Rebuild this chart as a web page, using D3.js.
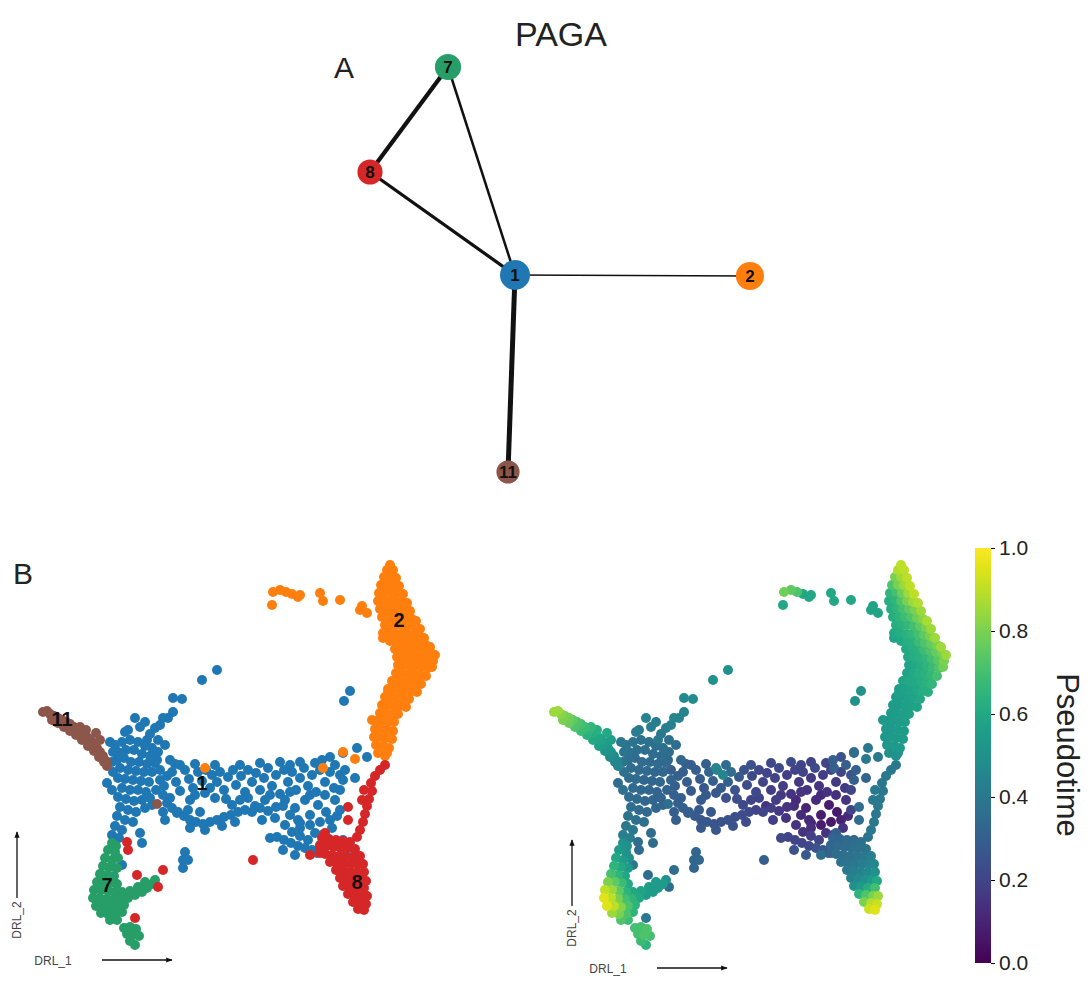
<!DOCTYPE html>
<html>
<head>
<meta charset="utf-8">
<script src="https://cdn.jsdelivr.net/npm/d3@7"></script>
<style>
  body { margin: 0; background: #fff; }
  text { font-family: "Liberation Sans", Arial, sans-serif; }
</style>
</head>
<body>
<div id="fig"></div>
<script>
// ---- PAGA graph (panel A) ----
var pagaNodes = ["1", "2", "7", "8", "11"];
var pagaX = [0.0, 2.35, -0.67, -1.45, -0.07];
var pagaY = [0.0, -0.01, 2.08, 1.03, -1.97];
var pagaCells = [420, 370, 320, 295, 250];
var pagaEdges = [["7", "8"], ["8", "1"], ["7", "1"], ["1", "2"], ["1", "11"]];
var pagaWeights = [0.85, 0.65, 0.5, 0.3, 1.0];

// ---- DRL embedding (panel B), [DRL_1, DRL_2, pseudotime] per cell ----
var cells11 = [[43,712,.85],[47,711,.85],[50,714,.82],[54,716,.8],[58,718,.78],[62,720,.75],[66,722,.72],[70,724,.7],[74,727,.68],[78,730,.65],[82,733,.62],[86,736,.6],[90,740,.58],[94,744,.55],[97,748,.52],[100,752,.5],[103,756,.48],[106,761,.46],[107,766,.45],[52,720,.8],[58,723,.77],[64,727,.72],[70,731,.68],[76,735,.64],[82,740,.6],[88,746,.56],[94,751,.52],[99,757,.48],[104,762,.46],[96,733,.6],[100,740,.56],[80,727,.66],[86,730,.63],[157,804,.35]];

var cells1 = [[217,670,.5],[202,680,.5],[182,699,.48],[173,698,.48],[173,712,.45],[168,718,.45],[163,718,.45],[155,728,.42],[147,740,.4],[135,718,.45],[125,732,.42],[140,727,.42],[150,734,.4],[160,725,.43],[107,783,.35],[88,738,.5],[92,742,.5],
[115,745,.38],[122,742,.38],[130,740,.37],[138,742,.37],[145,746,.36],[152,748,.36],[118,752,.37],[126,750,.36],[134,750,.36],[142,754,.35],[150,756,.35],[158,752,.35],
[117,760,.36],[124,758,.35],[131,762,.35],[139,762,.34],[147,764,.34],[155,763,.34],[120,768,.35],[128,770,.34],[136,771,.34],[144,772,.33],[152,772,.33],
[118,778,.35],[125,779,.34],[133,780,.33],[141,781,.33],[149,782,.33],[122,788,.34],[130,790,.33],[138,790,.33],[146,792,.32],[118,797,.35],[126,799,.34],[134,801,.33],[142,800,.32],[150,798,.32],
[120,807,.36],[128,810,.35],[136,812,.34],[145,808,.33],[117,816,.38],[125,820,.37],[133,822,.36],[115,826,.4],[122,830,.4],[112,835,.42],[119,838,.42],
[113,752,.38],[112,762,.38],[113,772,.37],[112,790,.37],[157,760,.33],[160,780,.32],[156,790,.32],[152,805,.32],[128,730,.4],[145,722,.42],[158,740,.36],[165,745,.35],[170,760,.33],[110,742,.4],
[140,833,.35],[142,843,.35],[122,865,.4],[165,820,.3],[163,812,.3],[177,813,.3],
[185,852,.33],[183,860,.33],[188,860,.33],[183,868,.33],
[160,770,.3],[167,776,.3],[164,786,.3],[172,772,.3],[176,782,.29],[180,791,.28],[185,770,.3],[189,779,.28],[193,788,.27],[198,772,.32],[202,781,.3],[206,770,.45],[212,775,.45],[210,788,.28],[217,782,.3],[220,772,.35],[224,790,.25],[228,777,.28],[233,770,.25],[236,785,.23],[241,776,.22],[245,792,.22],[248,770,.22],[252,782,.2],[256,773,.2],[260,790,.18],[264,778,.2],[268,768,.22],[272,786,.18],[276,775,.18],[280,794,.15],[284,770,.2],[288,782,.16],[292,772,.2],[296,790,.15],[300,778,.17],[304,768,.22],[308,786,.15],[312,775,.18],[316,792,.15],[320,770,.2],[325,782,.17],[330,772,.2],[334,788,.17],
[180,765,.3],[280,762,.22],[330,757,.25],[300,762,.2],[175,764,.3],[195,764,.3],[215,765,.35],[240,765,.25],[260,763,.22],[290,765,.2],[315,763,.2],[340,775,.25],[340,790,.2],
[163,795,.3],[170,798,.3],[195,795,.28],[205,793,.27],[226,799,.24],[248,798,.2],[270,795,.17],[290,792,.15],[310,795,.12],[325,795,.14],
[190,800,.28],[215,798,.25],[240,800,.2],[255,806,.15],[265,800,.18],[285,800,.12],[295,808,.1],[305,800,.12],[318,805,.08],[326,812,.07],[335,800,.15],[310,815,.08],[232,805,.22],
[167,803,.3],[172,808,.3],[178,812,.3],[184,816,.28],[190,820,.27],[196,822,.27],[203,824,.26],[210,822,.25],[217,820,.25],[224,817,.24],[231,815,.23],[238,812,.22],[245,810,.2],[252,812,.2],[260,808,.18],[268,811,.16],[276,807,.15],[283,806,.13],[290,815,.12],[298,820,.12],[190,828,.28],[205,830,.27],
[188,810,.28],[200,812,.27],[222,826,.25],[235,822,.23],[262,820,.18],[275,818,.15],[285,825,.15],[292,832,.15],[322,835,.2],[328,842,.25],[270,838,.22],[283,850,.25],[295,855,.28],
[277,837,.2],[284,840,.2],[291,843,.2],[298,846,.22],[305,848,.25],[312,850,.28],[317,853,.3],[300,836,.18],[308,840,.2],[315,833,.15],[300,828,.14],[320,845,.3],
[300,823,.1],[310,825,.08],[320,822,.07],[330,820,.1],[337,816,.12],[343,780,.3],[355,778,.32],[345,770,.3],[335,765,.3],[322,760,.3],[343,753,.35],[357,748,.4],[367,757,.4],[350,691,.5],[344,701,.5],[340,810,.2],[332,828,.15],[352,857,.35],[343,840,.3]];

var cells2 = [[390,565,.9],[387,570,.88],[393,570,.9],[384,577,.8],[390,577,.85],[396,578,.9],[381,585,.72],[387,585,.8],[393,585,.85],[399,586,.9],
[379,593,.65],[385,592,.7],[391,593,.78],[397,593,.85],[403,594,.9],[378,601,.62],[384,600,.65],[390,601,.72],[396,601,.8],[402,602,.85],[407,603,.88],
[380,609,.62],[386,609,.65],[392,609,.7],[398,609,.75],[404,610,.8],[410,611,.85],[382,617,.62],[388,617,.65],[394,617,.68],[400,617,.72],[406,618,.78],[412,619,.82],[416,621,.87],
[385,625,.62],[391,625,.64],[397,625,.66],[403,626,.7],[409,626,.75],[415,627,.8],[420,629,.85],[383,633,.6],[389,633,.62],[395,634,.64],[401,634,.66],[407,634,.7],[413,635,.75],[419,636,.8],[424,638,.85],
[390,641,.6],[396,641,.62],[402,642,.64],[408,642,.68],[414,643,.72],[420,644,.76],[426,645,.8],[430,647,.85],[395,649,.6],[401,649,.62],[407,650,.64],[413,650,.68],[419,651,.72],[425,652,.76],[431,653,.8],[435,655,.85],
[397,657,.6],[403,657,.62],[409,658,.64],[415,658,.66],[421,659,.7],[427,660,.74],[433,661,.8],[398,665,.58],[404,665,.6],[410,666,.62],[416,666,.65],[422,667,.68],[428,668,.72],[432,667,.78],
[396,673,.58],[402,673,.6],[408,674,.62],[414,674,.64],[420,675,.66],[426,676,.7],[392,681,.58],[398,681,.6],[404,682,.6],[410,682,.62],[416,683,.64],[421,684,.66],
[388,689,.56],[394,689,.57],[400,690,.58],[406,690,.6],[412,691,.62],[417,692,.63],[385,697,.55],[391,697,.56],[397,698,.57],[403,698,.58],[409,699,.6],
[382,705,.55],[388,705,.55],[394,706,.56],[400,706,.57],[406,707,.58],[380,713,.54],[386,713,.55],[392,714,.56],[398,714,.57],
[376,721,.54],[382,721,.54],[388,722,.55],[394,722,.56],[375,729,.53],[381,729,.54],[387,730,.55],[393,731,.55],[374,737,.53],[380,737,.54],[386,738,.54],[392,739,.55],
[376,745,.53],[383,746,.54],[389,748,.54],[378,753,.5],[385,756,.5],[372,720,.54],[388,693,.56],[383,638,.58],[380,602,.6],[360,610,.58],[367,613,.58],[362,606,.58],
[273,592,.78],[272,605,.6],[280,590,.75],[286,592,.72],[292,594,.6],[298,597,.6],[300,595,.6],[320,593,.6],[323,601,.6],[340,600,.6],
[205,768,.45],[323,768,.3],[343,752,.35],[355,759,.4],[387,753,.5]];

var cells8 = [[385,765,.4],[380,770,.4],[375,776,.4],[371,783,.4],[372,791,.4],[369,799,.4],[367,806,.4],[365,814,.4],[363,822,.4],[360,830,.4],[357,837,.38],[362,800,.4],[364,790,.4],
[348,807,.35],[348,820,.35],[310,855,.35],[253,860,.3],[325,833,.3],[320,853,.32],
[322,838,.33],[329,839,.33],[336,840,.34],[343,841,.35],[350,842,.36],[320,846,.33],[327,846,.34],[334,847,.35],[341,848,.36],[348,848,.37],[355,849,.38],
[325,854,.35],[332,855,.36],[339,856,.37],[346,856,.38],[354,857,.4],[360,856,.42],[330,862,.37],[337,863,.38],[344,864,.4],[351,864,.42],[358,864,.44],[363,864,.46],
[336,870,.4],[343,871,.42],[350,872,.44],[357,872,.47],[364,872,.5],[340,878,.44],[347,879,.47],[354,880,.5],[361,880,.55],[366,881,.6],
[343,886,.5],[350,887,.55],[357,888,.62],[364,888,.7],[348,894,.65],[355,895,.72],[362,896,.8],[367,896,.85],[353,902,.8],[360,903,.88],[366,904,.92],[358,909,.92],[364,910,.95],
[127,842,.35],[128,850,.35],[137,875,.35],[163,870,.35],[158,887,.35],[135,918,.4]];

var cells7 = [[112,843,.5],[116,846,.5],[108,850,.55],[115,852,.5],[105,858,.6],[112,860,.55],[118,858,.5],[103,866,.65],[110,867,.6],[117,868,.55],[100,874,.7],[107,875,.65],[114,876,.6],
[97,882,.8],[104,882,.75],[111,883,.68],[117,884,.6],[94,890,.9],[101,890,.85],[108,891,.75],[115,892,.65],[122,892,.6],
[93,898,.95],[100,898,.9],[107,899,.8],[114,899,.7],[121,899,.65],[128,898,.6],[135,895,.55],[142,892,.55],[147,888,.55],[152,884,.55],[155,880,.5],[145,882,.55],[138,887,.55],[130,891,.58],
[96,906,.95],[103,906,.9],[110,907,.82],[117,906,.72],[124,905,.65],[101,913,.85],[108,914,.8],[115,914,.72],[122,912,.65],[110,920,.72],[117,920,.68],
[124,928,.7],[130,927,.7],[136,929,.72],[127,934,.7],[133,935,.72],[139,936,.7],[130,941,.68],[135,945,.65]];

var clusterNames = ["1", "2", "7", "8", "11"];
var clusterColors = ["#1f77b4", "#ff7f0e", "#279e68", "#d62728", "#8c564b"];
var clusterCells = [cells1, cells2, cells7, cells8, cells11];
var labelDrl1 = [202, 399, 107, 357, 62];
var labelDrl2 = [783, 620, 885, 882, 719];
var cbarTicks = [0.0, 0.2, 0.4, 0.6, 0.8, 1.0];

var width = 1092, height = 990;
var svg = d3.select("#fig").append("svg")
    .attr("width", width)
    .attr("height", height);

var color = d3.scaleOrdinal().domain(clusterNames).range(clusterColors);

// ---------- panel A ----------
var px = d3.scaleLinear().domain([-1.45, 2.35]).range([370, 750]);
var py = d3.scaleLinear().domain([2.08, -1.97]).range([67, 472]);
var pr = d3.scaleSqrt().domain([0, 420]).range([0, 15]);
var pw = d3.scaleLinear().domain([0, 1]).range([0, 5]);

var nodes = pagaNodes.map(function (n, i) {
    return { name: n, x: pagaX[i], y: pagaY[i], cells: pagaCells[i] };
});
var byName = {};
nodes.forEach(function (n) { byName[n.name] = n; });

svg.append("text").text("PAGA")
    .attr("x", 561).attr("y", 46)
    .attr("text-anchor", "middle")
    .style("font-size", "34px").attr("fill", "#222");
svg.append("text").text("A")
    .attr("x", 344).attr("y", 78)
    .attr("text-anchor", "middle")
    .style("font-size", "30px").attr("fill", "#222");

svg.append("g").selectAll("line")
    .data(pagaEdges)
    .enter().append("line")
    .attr("x1", function (d) { return px(byName[d[0]].x); })
    .attr("y1", function (d) { return py(byName[d[0]].y); })
    .attr("x2", function (d) { return px(byName[d[1]].x); })
    .attr("y2", function (d) { return py(byName[d[1]].y); })
    .attr("stroke", "#111")
    .attr("stroke-width", function (d, i) { return pw(pagaWeights[i]); });

var gn = svg.append("g").selectAll("g")
    .data(nodes)
    .enter().append("g")
    .attr("transform", function (d) { return "translate(" + px(d.x) + "," + py(d.y) + ")"; });
gn.append("circle")
    .attr("r", function (d) { return pr(d.cells); })
    .attr("fill", function (d) { return color(d.name); });
gn.append("text")
    .text(function (d) { return d.name; })
    .attr("text-anchor", "middle")
    .attr("dy", "0.36em")
    .style("font-size", "17px")
    .style("font-weight", "bold")
    .attr("fill", "#111");

// ---------- panel B ----------
var cells = [];
clusterCells.forEach(function (arr, k) {
    arr.forEach(function (c) {
        cells.push({ d1: c[0], d2: c[1], t: c[2], cluster: clusterNames[k] });
    });
});

var y = d3.scaleLinear().domain([560, 950]).range([560, 950]);
var xLeft = d3.scaleLinear().domain([0, 470]).range([0, 470]);
var xRight = d3.scaleLinear().domain([0, 470]).range([511, 981]);
var viridis = d3.scaleSequential(d3.interpolateViridis).domain([0, 1]);

svg.append("text").text("B")
    .attr("x", 23).attr("y", 584)
    .attr("text-anchor", "middle")
    .style("font-size", "30px").attr("fill", "#222");

svg.append("g").selectAll("circle")
    .data(cells)
    .enter().append("circle")
    .attr("cx", function (d) { return xLeft(d.d1); })
    .attr("cy", function (d) { return y(d.d2); })
    .attr("r", 5)
    .attr("fill", function (d) { return color(d.cluster); });

svg.append("g").selectAll("text")
    .data(clusterNames)
    .enter().append("text")
    .text(function (d) { return d; })
    .attr("x", function (d, i) { return xLeft(labelDrl1[i]); })
    .attr("y", function (d, i) { return y(labelDrl2[i]); })
    .attr("dy", "0.36em")
    .attr("text-anchor", "middle")
    .style("font-size", "20px")
    .style("font-weight", "bold")
    .attr("fill", "#111");

var sorted = cells.slice().sort(function (a, b) { return a.t - b.t; });
svg.append("g").selectAll("circle")
    .data(sorted)
    .enter().append("circle")
    .attr("cx", function (d) { return xRight(d.d1); })
    .attr("cy", function (d) { return y(d.d2); })
    .attr("r", 5)
    .attr("fill", function (d) { return viridis(d.t); });

// DRL axis arrows
var defs = svg.append("defs");
defs.append("marker")
    .attr("id", "arr")
    .attr("viewBox", "0 0 10 10")
    .attr("refX", 9).attr("refY", 5)
    .attr("markerWidth", 5).attr("markerHeight", 5)
    .attr("orient", "auto")
    .append("path").attr("d", "M0,1L10,5L0,9Z").attr("fill", "#111");

function drlArrows(x0, yb) {
    var g = svg.append("g");
    g.append("line")
        .attr("x1", x0).attr("y1", yb - 62)
        .attr("x2", x0).attr("y2", yb - 128)
        .attr("stroke", "#111").attr("stroke-width", 1.3)
        .attr("marker-end", "url(#arr)");
    g.append("text").text("DRL_2")
        .attr("transform", "translate(" + (x0 + 4) + "," + (yb - 40) + ") rotate(-90)")
        .attr("text-anchor", "middle")
        .style("font-size", "12px").attr("fill", "#444");
    g.append("text").text("DRL_1")
        .attr("x", x0 + 36).attr("y", yb + 5)
        .attr("text-anchor", "middle")
        .style("font-size", "12px").attr("fill", "#444");
    g.append("line")
        .attr("x1", x0 + 85).attr("y1", yb)
        .attr("x2", x0 + 155).attr("y2", yb)
        .attr("stroke", "#111").attr("stroke-width", 1.3)
        .attr("marker-end", "url(#arr)");
}
drlArrows(17, 960);
drlArrows(572, 968);

// colorbar
var cb = d3.scaleLinear().domain([0, 1]).range([963, 548]);
var grad = defs.append("linearGradient")
    .attr("id", "vir")
    .attr("x1", "0").attr("y1", "1").attr("x2", "0").attr("y2", "0");
d3.range(0, 1.0001, 0.05).forEach(function (s) {
    grad.append("stop").attr("offset", s).attr("stop-color", viridis(s));
});
svg.append("rect")
    .attr("x", 975).attr("y", cb(1))
    .attr("width", 16).attr("height", cb(0) - cb(1))
    .attr("fill", "url(#vir)");

var cbAxis = d3.axisRight(cb)
    .tickValues(cbarTicks)
    .tickFormat(d3.format(".1f"))
    .tickSize(4)
    .tickPadding(4);
var ga = svg.append("g")
    .attr("transform", "translate(991,0)")
    .call(cbAxis);
ga.select(".domain").remove();
ga.selectAll("text")
    .style("font-size", "21px")
    .style("font-family", "'Liberation Sans', Arial, sans-serif")
    .attr("fill", "#222");

svg.append("text").text("Pseudotime")
    .attr("transform", "translate(1057,755) rotate(90)")
    .attr("text-anchor", "middle")
    .style("font-size", "31px").attr("fill", "#222");
</script>
</body>
</html>
